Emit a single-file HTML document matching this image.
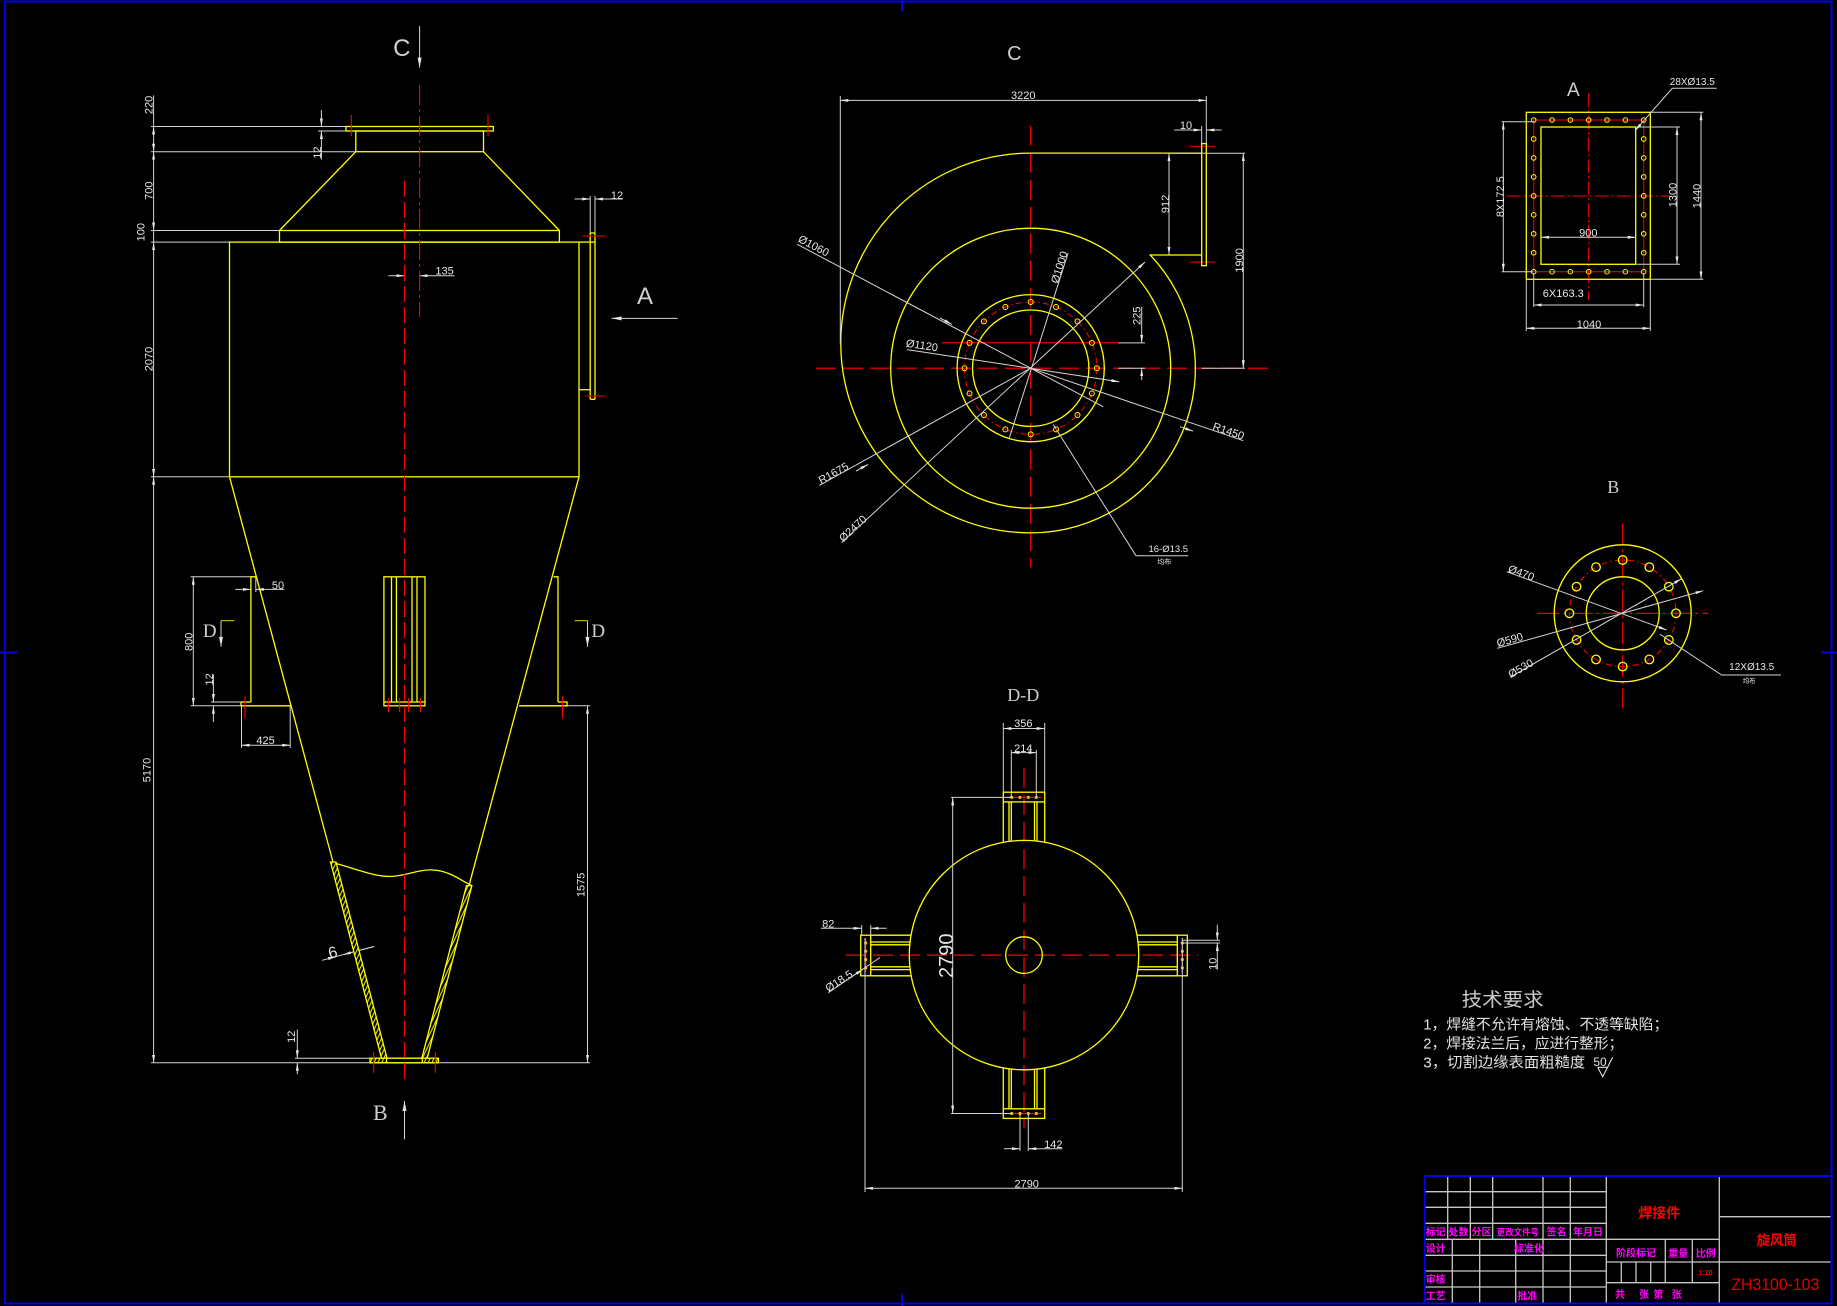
<!DOCTYPE html>
<html><head><meta charset="utf-8">
<style>html,body{margin:0;padding:0;background:#000;}svg{display:block}</style>
</head>
<body>
<svg width="1837" height="1306" viewBox="0 0 1837 1306" xmlns="http://www.w3.org/2000/svg" font-family="'Liberation Sans', sans-serif">
<defs>
<marker id="a" viewBox="0 0 8 3" refX="8" refY="1.5" markerWidth="8" markerHeight="3" markerUnits="userSpaceOnUse" orient="auto-start-reverse"><path d="M0,0L8,1.5L0,3z" fill="#e6e6e6"/></marker>
<marker id="b" viewBox="0 0 10 4" refX="10" refY="2" markerWidth="10" markerHeight="4" markerUnits="userSpaceOnUse" orient="auto-start-reverse"><path d="M0,0L10,2L0,4z" fill="#e6e6e6"/></marker>
<pattern id="h" width="3.5" height="3.5" patternUnits="userSpaceOnUse" patternTransform="rotate(25)"><rect width="3.5" height="3.5" fill="#000"/><line x1="0.6" y1="0" x2="0.6" y2="3.5" stroke="#ffff00" stroke-width="1"/></pattern>
</defs>
<rect width="1837" height="1306" fill="#000"/>

<!-- frame -->
<g stroke="#0000ee" stroke-width="2" fill="none">
<rect x="5" y="1.5" width="1826.5" height="1302"/>
<line x1="902" y1="0" x2="902" y2="11"/>
<line x1="902" y1="1294" x2="902" y2="1306"/>
<line x1="0" y1="652.5" x2="17" y2="652.5"/>
<line x1="1821" y1="652.5" x2="1837" y2="652.5"/>
</g>

<!-- ================= MAIN ELEVATION ================= -->
<g stroke="#d4d4d4" stroke-width="1" fill="none">
<line x1="153.6" y1="95.4" x2="153.6" y2="126.5"/>
<line x1="153.6" y1="126.5" x2="153.6" y2="151.7" marker-start="url(#a)" marker-end="url(#a)"/>
<line x1="153.6" y1="151.7" x2="153.6" y2="230.5" marker-start="url(#a)" marker-end="url(#a)"/>
<line x1="153.6" y1="230.5" x2="153.6" y2="242.1"/>
<line x1="153.6" y1="242.1" x2="153.6" y2="476.8" marker-start="url(#a)" marker-end="url(#a)"/>
<line x1="153.6" y1="476.8" x2="153.6" y2="1062.8" marker-start="url(#a)" marker-end="url(#a)"/>
<line x1="151" y1="126.5" x2="346" y2="126.5"/>
<line x1="151" y1="151.7" x2="355.8" y2="151.7"/>
<line x1="151" y1="230.5" x2="279.5" y2="230.5"/>
<line x1="151" y1="242.1" x2="229.5" y2="242.1"/>
<line x1="151" y1="476.8" x2="229.5" y2="476.8"/>
<line x1="151" y1="1062.8" x2="590.2" y2="1062.8"/>
<line x1="321.4" y1="110" x2="321.4" y2="126.5" marker-end="url(#a)"/>
<line x1="321.4" y1="159.6" x2="321.4" y2="131" marker-end="url(#a)"/>
<line x1="318" y1="131" x2="346" y2="131"/>
<line x1="388.4" y1="275.7" x2="404.5" y2="275.7" marker-end="url(#a)"/>
<line x1="454.5" y1="275.7" x2="419.6" y2="275.7" marker-end="url(#a)"/>
<line x1="574.5" y1="199" x2="590.2" y2="199" marker-end="url(#a)"/>
<line x1="622.8" y1="199" x2="595" y2="199" marker-end="url(#a)"/>
<line x1="590.2" y1="196" x2="590.2" y2="233"/>
<line x1="595" y1="196" x2="595" y2="233"/>
<line x1="677.7" y1="318.4" x2="611.6" y2="318.4" marker-end="url(#b)"/>
<line x1="419.6" y1="26" x2="419.6" y2="67.6" marker-end="url(#b)"/>
<line x1="404.5" y1="1139.4" x2="404.5" y2="1101" marker-end="url(#b)"/>
<line x1="221" y1="620.6" x2="221" y2="646.8" marker-end="url(#b)"/>
<line x1="587.5" y1="620.6" x2="587.5" y2="646.8" marker-end="url(#b)"/>
<line x1="193.3" y1="576.8" x2="193.3" y2="705.8" marker-start="url(#a)" marker-end="url(#a)"/>
<line x1="190.6" y1="576.8" x2="250.9" y2="576.8"/>
<line x1="190.6" y1="705.8" x2="241" y2="705.8"/>
<line x1="213.4" y1="674.4" x2="213.4" y2="702" marker-end="url(#a)"/>
<line x1="213.4" y1="722.2" x2="213.4" y2="705.8" marker-end="url(#a)"/>
<line x1="211" y1="702" x2="241" y2="702"/>
<line x1="235.3" y1="589.4" x2="250.9" y2="589.4" marker-end="url(#a)"/>
<line x1="284.4" y1="589.4" x2="255.8" y2="589.4" marker-end="url(#a)"/>
<line x1="255.8" y1="576.8" x2="255.8" y2="592"/>
<line x1="241.5" y1="745.2" x2="290.2" y2="745.2" marker-start="url(#a)" marker-end="url(#a)"/>
<line x1="241.5" y1="705.8" x2="241.5" y2="748"/>
<line x1="290.2" y1="705.8" x2="290.2" y2="748"/>
<line x1="587.5" y1="705.8" x2="587.5" y2="1062.8" marker-start="url(#a)" marker-end="url(#a)"/>
<line x1="519.2" y1="705.8" x2="590.2" y2="705.8"/>
<line x1="297.3" y1="1029.5" x2="297.3" y2="1058.2" marker-end="url(#a)"/>
<line x1="297.3" y1="1074.3" x2="297.3" y2="1062.8" marker-end="url(#a)"/>
<line x1="295" y1="1058.2" x2="370" y2="1058.2"/>
<line x1="328" y1="958.7" x2="374" y2="946.5"/>
<line x1="322" y1="960.3" x2="336" y2="956.6" marker-end="url(#a)"/>
<line x1="374" y1="946.5" x2="343" y2="954.7" marker-end="url(#a)"/>
</g>
<g stroke="#b0b000" stroke-width="1.2">
<line x1="221" y1="620.6" x2="234.4" y2="620.6"/>
<line x1="574.6" y1="620.6" x2="587.5" y2="620.6"/>
</g>

<g stroke="#ffff00" stroke-width="1.3" fill="none">
<rect x="346" y="126.5" width="147.3" height="4.5"/>
<rect x="355.8" y="131" width="127.7" height="20.7"/>
<line x1="355.8" y1="151.7" x2="279.5" y2="230.5"/>
<line x1="483.5" y1="151.7" x2="559.4" y2="230.5"/>
<rect x="279.5" y="230.5" width="279.9" height="11.6"/>
<rect x="229.5" y="242.1" width="349.5" height="234.7"/>
<line x1="579" y1="242.1" x2="595" y2="242.1"/>
<line x1="590.2" y1="233" x2="590.2" y2="399.3"/>
<line x1="595" y1="233" x2="595" y2="399.3"/>
<line x1="590.2" y1="233" x2="595" y2="233"/>
<line x1="590.2" y1="399.3" x2="595" y2="399.3"/>
<line x1="579" y1="389.7" x2="590.2" y2="389.7"/>
<line x1="229.5" y1="476.8" x2="333" y2="862"/>
<line x1="579" y1="476.8" x2="469" y2="885.6"/>
<polyline points="250.9,702 250.9,576.8 255.8,576.8"/>
<polyline points="241,702 250.9,702"/>
<polyline points="241,702 241,705.8 291.3,705.8"/>
<polyline points="558,702 558,576.8 553.6,576.8"/>
<polyline points="558,702 567,702 567,705.8 519.2,705.8"/>
<rect x="383.9" y="576.8" width="41.1" height="129"/>
<line x1="391.5" y1="576.8" x2="391.5" y2="702"/>
<line x1="396.4" y1="576.8" x2="396.4" y2="702"/>
<line x1="412" y1="576.8" x2="412" y2="702"/>
<line x1="417" y1="576.8" x2="417" y2="702"/>
<line x1="383.9" y1="702" x2="425" y2="702"/>
<path d="M330.4,861.9 C360,870 375,877 391,876.4 C405,876 420,869 433,870 C450,871 460,880 471.9,885.6"/>
<polygon points="330.5,862 336,862 387,1058.2 381.5,1058.2" fill="url(#h)"/>
<polygon points="466.5,885.6 471.9,885.6 427.2,1058.2 421.8,1058.2" fill="url(#h)"/>
<rect x="370" y="1058.2" width="16.6" height="4.6" fill="url(#h)"/>
<rect x="422.3" y="1058.2" width="16.1" height="4.6" fill="url(#h)"/>
<line x1="386.6" y1="1058.2" x2="422.3" y2="1058.2"/>
<line x1="370" y1="1062.8" x2="438.4" y2="1062.8"/>
</g>
<g stroke="#ff0000" stroke-width="1.1" fill="none">
<line x1="419.6" y1="85" x2="419.6" y2="317" stroke-dasharray="20,4,3,4"/>
<line x1="404.5" y1="181" x2="404.5" y2="1082" stroke-dasharray="16,5"/>
<line x1="351.3" y1="115" x2="351.3" y2="136"/>
<line x1="488" y1="115" x2="488" y2="136"/>
<line x1="245" y1="696.6" x2="245" y2="718.4"/>
<line x1="562.5" y1="696.6" x2="562.5" y2="718.4"/>
<line x1="388.4" y1="698" x2="388.4" y2="712"/>
<line x1="399.6" y1="698" x2="399.6" y2="712"/>
<line x1="408.5" y1="698" x2="408.5" y2="712"/>
<line x1="420.5" y1="698" x2="420.5" y2="712"/>
<line x1="373.7" y1="1052" x2="373.7" y2="1072.8"/>
<line x1="435.3" y1="1052" x2="435.3" y2="1072.8"/>
</g>
<g stroke="#c00000" stroke-width="1.2">
<line x1="582.6" y1="236" x2="605" y2="236"/>
<line x1="584.8" y1="396" x2="605" y2="396"/>
</g>
<g fill="#e6e6e6" font-size="11" text-anchor="middle">
<text transform="translate(152.7,104.9) rotate(-90)">220</text>
<text transform="translate(152.7,190.7) rotate(-90)">700</text>
<text transform="translate(144.6,232.2) rotate(-90)">100</text>
<text transform="translate(152.7,359) rotate(-90)">2070</text>
<text transform="translate(150.4,770) rotate(-90)">5170</text>
<text transform="translate(321,152.6) rotate(-90)">12</text>
<text transform="translate(192.4,641.8) rotate(-90)">800</text>
<text transform="translate(213,679.4) rotate(-90)">12</text>
<text transform="translate(584.4,884.9) rotate(-90)">1575</text>
<text transform="translate(295,1036.8) rotate(-90)">12</text>
<text x="444.6" y="274.5">135</text>
<text x="617" y="199">12</text>
<text x="278" y="589">50</text>
<text x="265.6" y="744">425</text>
<text transform="translate(332.6,951.8) rotate(-15)" font-size="16" y="6">6</text>
<text x="401.8" y="56" font-size="24" fill="#d0d0d0">C</text>
<text x="645" y="304" font-size="24" fill="#d0d0d0">A</text>
<text x="380.4" y="1120" font-size="22" font-family="'Liberation Serif', serif" fill="#d0d0d0">B</text>
<text x="209.8" y="637" font-size="19" font-family="'Liberation Serif', serif" fill="#d0d0d0">D</text>
<text x="598.2" y="637" font-size="19" font-family="'Liberation Serif', serif" fill="#d0d0d0">D</text>
</g>

<!-- ================= C VIEW ================= -->
<g stroke="#ff0000" stroke-width="1.2" fill="none">
<line x1="816" y1="368.2" x2="1275" y2="368.2" stroke-dasharray="20,7"/>
<line x1="1030.7" y1="125.7" x2="1030.7" y2="567.5" stroke-dasharray="20,7"/>
<circle cx="1030.7" cy="368.2" r="66.2" stroke-dasharray="6,3,1.5,3" stroke-width="1"/>
</g>
<g stroke="#c00000" stroke-width="1.3">
<line x1="942" y1="342.7" x2="1118.3" y2="342.7"/>
<line x1="1189.3" y1="146.4" x2="1215" y2="146.4"/>
<line x1="1189.3" y1="262.1" x2="1215" y2="262.1"/>
</g>
<g stroke="#ffff00" stroke-width="1.3" fill="none">
<path d="M1030.7,153.15 A189.85,189.85 0 1 0 1030.7,532.85 A164.65,164.65 0 0 0 1149.7,254.4"/>
<line x1="1030.7" y1="153.15" x2="1201.7" y2="153.15"/>
<line x1="1149.7" y1="255" x2="1201.7" y2="255"/>
<rect x="1201.7" y="143.6" width="4.6" height="122.1"/>
<circle cx="1030.7" cy="368.2" r="140"/>
<circle cx="1030.7" cy="368.2" r="73.6"/>
<circle cx="1030.7" cy="368.2" r="58.2"/>
</g>
<g stroke="#ffff00" stroke-width="1" fill="none">
<circle cx="1096.9" cy="368.2" r="2.5"/><circle cx="1091.86" cy="393.53" r="2.5"/><circle cx="1077.51" cy="415.01" r="2.5"/><circle cx="1056.03" cy="429.36" r="2.5"/>
<circle cx="1030.7" cy="434.4" r="2.5"/><circle cx="1005.37" cy="429.36" r="2.5"/><circle cx="983.89" cy="415.01" r="2.5"/><circle cx="969.54" cy="393.53" r="2.5"/>
<circle cx="964.5" cy="368.2" r="2.5"/><circle cx="969.54" cy="342.87" r="2.5"/><circle cx="983.89" cy="321.39" r="2.5"/><circle cx="1005.37" cy="307.04" r="2.5"/>
<circle cx="1030.7" cy="302" r="2.5"/><circle cx="1056.03" cy="307.04" r="2.5"/><circle cx="1077.51" cy="321.39" r="2.5"/><circle cx="1091.86" cy="342.87" r="2.5"/>
</g>
<g stroke="#d4d4d4" stroke-width="1" fill="none">
<line x1="840.3" y1="100.4" x2="1206.3" y2="100.4" marker-start="url(#a)" marker-end="url(#a)"/>
<line x1="840.3" y1="96" x2="840.3" y2="344"/>
<line x1="1206.3" y1="96" x2="1206.3" y2="143.6"/>
<line x1="1174.3" y1="130" x2="1201.7" y2="130" marker-end="url(#a)"/>
<line x1="1221.7" y1="130" x2="1206.3" y2="130" marker-end="url(#a)"/>
<line x1="1201.7" y1="126" x2="1201.7" y2="143.6"/>
<line x1="1169" y1="153.2" x2="1169" y2="255" marker-start="url(#a)" marker-end="url(#a)"/>
<line x1="1243.3" y1="153.2" x2="1243.3" y2="368.2" marker-start="url(#a)" marker-end="url(#a)"/>
<line x1="1170.7" y1="153.2" x2="1245" y2="153.2"/>
<line x1="1201.7" y1="368.2" x2="1245" y2="368.2"/>
<line x1="1118.3" y1="342.9" x2="1145" y2="342.9"/>
<line x1="1118.3" y1="368.2" x2="1145" y2="368.2"/>
<line x1="1141.7" y1="306.8" x2="1141.7" y2="342.9" marker-end="url(#a)"/>
<line x1="1141.7" y1="380" x2="1141.7" y2="368.2" marker-end="url(#a)"/>
<line x1="797.3" y1="244.3" x2="1103.3" y2="406.8"/>
<line x1="1068" y1="253.2" x2="1009" y2="439"/>
<line x1="907" y1="349.6" x2="1119.3" y2="381.8" marker-end="url(#a)"/>
<line x1="819.3" y1="485.4" x2="1030.7" y2="368.2"/>
<line x1="841.7" y1="542.5" x2="1145" y2="262" marker-end="url(#a)"/>
<line x1="1030.7" y1="368.2" x2="1243.3" y2="440.7"/>
<polyline points="1188.3,555.7 1136,555.7 1053.3,424.6"/>
<line x1="1180" y1="426.7" x2="1193" y2="431.1" marker-end="url(#a)"/>
<line x1="856" y1="471" x2="868" y2="464.4" marker-end="url(#a)"/>
<line x1="940" y1="318" x2="952" y2="324.4" marker-end="url(#a)"/>
</g>
<g fill="#e6e6e6" font-size="11" text-anchor="middle">
<text x="1014.3" y="60" font-size="20" fill="#d0d0d0">C</text>
<text x="1023.3" y="99">3220</text>
<text x="1186" y="129">10</text>
<text transform="translate(1169,204) rotate(-90)">912</text>
<text transform="translate(1243,260.4) rotate(-90)">1900</text>
<text transform="translate(1140.7,315.7) rotate(-90)">225</text>
<text transform="translate(812,249) rotate(28)" y="0">Ø1060</text>
<text transform="translate(1060,267.5) rotate(-72.4)" y="3">Ø1000</text>
<text transform="translate(921.7,347) rotate(8.6)" y="2">Ø1120</text>
<text transform="translate(833.3,472.9) rotate(-29)" y="4">R1675</text>
<text transform="translate(852.6,528.2) rotate(-42.8)" y="4">Ø2470</text>
<text transform="translate(1228.3,431.8) rotate(18.8)" y="3">R1450</text>
<text x="1168.3" y="552" font-size="9.5">16-Ø13.5</text>
<text x="1164.3" y="564" font-size="7" font-family="'Liberation Sans','Noto Sans CJK SC',sans-serif">均布</text>
</g>
<g fill="#ff0000">
<circle cx="1096.9" cy="368.2" r="0.9"/><circle cx="1091.86" cy="393.53" r="0.9"/><circle cx="1077.51" cy="415.01" r="0.9"/><circle cx="1056.03" cy="429.36" r="0.9"/>
<circle cx="1030.7" cy="434.4" r="0.9"/><circle cx="1005.37" cy="429.36" r="0.9"/><circle cx="983.89" cy="415.01" r="0.9"/><circle cx="969.54" cy="393.53" r="0.9"/>
<circle cx="964.5" cy="368.2" r="0.9"/><circle cx="969.54" cy="342.87" r="0.9"/><circle cx="983.89" cy="321.39" r="0.9"/><circle cx="1005.37" cy="307.04" r="0.9"/>
<circle cx="1030.7" cy="302" r="0.9"/><circle cx="1056.03" cy="307.04" r="0.9"/><circle cx="1077.51" cy="321.39" r="0.9"/><circle cx="1091.86" cy="342.87" r="0.9"/>
</g>

<!-- ================= A VIEW ================= -->
<g stroke="#ff0000" stroke-width="1.1" fill="none">
<line x1="1588.7" y1="93.3" x2="1588.7" y2="300" stroke-dasharray="14,3,2,3"/>
<line x1="1506.7" y1="196" x2="1670" y2="196" stroke-dasharray="14,3,2,3"/>
<rect x="1533.7" y="120" width="110" height="151.7" stroke="#c00000" stroke-width="1.3"/>
</g>
<g stroke="#ffff00" stroke-width="1.3" fill="none">
<rect x="1526.3" y="112.3" width="124" height="167"/>
<rect x="1541" y="127" width="94.7" height="137.3"/>
</g>
<g stroke="#ffff00" stroke-width="1" fill="none">
<circle cx="1533.7" cy="120" r="2.3"/><circle cx="1552.03" cy="120" r="2.3"/><circle cx="1570.37" cy="120" r="2.3"/><circle cx="1588.7" cy="120" r="2.3"/><circle cx="1607.03" cy="120" r="2.3"/><circle cx="1625.37" cy="120" r="2.3"/><circle cx="1643.7" cy="120" r="2.3"/>
<circle cx="1533.7" cy="271.7" r="2.3"/><circle cx="1552.03" cy="271.7" r="2.3"/><circle cx="1570.37" cy="271.7" r="2.3"/><circle cx="1588.7" cy="271.7" r="2.3"/><circle cx="1607.03" cy="271.7" r="2.3"/><circle cx="1625.37" cy="271.7" r="2.3"/><circle cx="1643.7" cy="271.7" r="2.3"/>
<circle cx="1533.7" cy="138.96" r="2.3"/><circle cx="1533.7" cy="157.93" r="2.3"/><circle cx="1533.7" cy="176.89" r="2.3"/><circle cx="1533.7" cy="195.85" r="2.3"/><circle cx="1533.7" cy="214.81" r="2.3"/><circle cx="1533.7" cy="233.78" r="2.3"/><circle cx="1533.7" cy="252.74" r="2.3"/>
<circle cx="1643.7" cy="138.96" r="2.3"/><circle cx="1643.7" cy="157.93" r="2.3"/><circle cx="1643.7" cy="176.89" r="2.3"/><circle cx="1643.7" cy="195.85" r="2.3"/><circle cx="1643.7" cy="214.81" r="2.3"/><circle cx="1643.7" cy="233.78" r="2.3"/><circle cx="1643.7" cy="252.74" r="2.3"/>
</g>
<g stroke="#d4d4d4" stroke-width="1" fill="none">
<line x1="1503.3" y1="121.7" x2="1503.3" y2="271.7" marker-start="url(#a)" marker-end="url(#a)"/>
<line x1="1501.7" y1="121.7" x2="1533.7" y2="121.7"/>
<line x1="1501.7" y1="271.7" x2="1533.7" y2="271.7"/>
<line x1="1677" y1="127" x2="1677" y2="264.3" marker-start="url(#a)" marker-end="url(#a)"/>
<line x1="1636.7" y1="127" x2="1680" y2="127"/>
<line x1="1636.7" y1="264.3" x2="1680" y2="264.3"/>
<line x1="1701" y1="112.3" x2="1701" y2="279.3" marker-start="url(#a)" marker-end="url(#a)"/>
<line x1="1650.3" y1="112.3" x2="1703.3" y2="112.3"/>
<line x1="1650.3" y1="279.3" x2="1703.3" y2="279.3"/>
<line x1="1541" y1="237.3" x2="1635.7" y2="237.3" marker-start="url(#a)" marker-end="url(#a)"/>
<line x1="1533.7" y1="305" x2="1643.7" y2="305" marker-start="url(#a)" marker-end="url(#a)"/>
<line x1="1533.7" y1="273" x2="1533.7" y2="307"/>
<line x1="1643.7" y1="273" x2="1643.7" y2="307"/>
<line x1="1526.3" y1="328.3" x2="1650.3" y2="328.3" marker-start="url(#a)" marker-end="url(#a)"/>
<line x1="1526.3" y1="280" x2="1526.3" y2="331"/>
<line x1="1650.3" y1="280" x2="1650.3" y2="331"/>
<polyline points="1716.7,88.3 1672.3,88.3 1635,130.7" marker-end="url(#a)"/>
</g>
<g fill="#e6e6e6" font-size="11" text-anchor="middle">
<text x="1573.3" y="96" font-size="19" fill="#d0d0d0">A</text>
<text transform="translate(1504,196.7) rotate(-90)">8X172.5</text>
<text transform="translate(1676.3,195) rotate(-90)">1300</text>
<text transform="translate(1700.7,196) rotate(-90)">1440</text>
<text x="1588.3" y="236.5">900</text>
<text x="1563.3" y="297">6X163.3</text>
<text x="1589" y="328">1040</text>
<text x="1692.3" y="85" font-size="10">28XØ13.5</text>
</g>
<g fill="#ff0000">
<circle cx="1533.7" cy="120" r="0.8"/><circle cx="1552.03" cy="120" r="0.8"/><circle cx="1570.37" cy="120" r="0.8"/><circle cx="1588.7" cy="120" r="0.8"/><circle cx="1607.03" cy="120" r="0.8"/><circle cx="1625.37" cy="120" r="0.8"/><circle cx="1643.7" cy="120" r="0.8"/>
<circle cx="1533.7" cy="271.7" r="0.8"/><circle cx="1552.03" cy="271.7" r="0.8"/><circle cx="1570.37" cy="271.7" r="0.8"/><circle cx="1588.7" cy="271.7" r="0.8"/><circle cx="1607.03" cy="271.7" r="0.8"/><circle cx="1625.37" cy="271.7" r="0.8"/><circle cx="1643.7" cy="271.7" r="0.8"/>
</g>

<!-- ================= B VIEW ================= -->
<g stroke="#ff0000" stroke-width="1.1" fill="none">
<line x1="1537.3" y1="613.3" x2="1708.3" y2="613.3" stroke-dasharray="22,4,3,4"/>
<line x1="1622.7" y1="523.3" x2="1622.7" y2="708.3" stroke-dasharray="22,4,3,4"/>
<circle cx="1622.7" cy="613.3" r="53.3" stroke-dasharray="6,3,1.5,3"/>
</g>
<g stroke="#ffff00" stroke-width="1.3" fill="none">
<circle cx="1622.7" cy="613.3" r="68.5"/>
<circle cx="1622.7" cy="613.3" r="36.5"/>
<circle cx="1676" cy="613.3" r="4.3"/><circle cx="1668.86" cy="639.95" r="4.3"/><circle cx="1649.35" cy="659.46" r="4.3"/><circle cx="1622.7" cy="666.6" r="4.3"/>
<circle cx="1596.05" cy="659.46" r="4.3"/><circle cx="1576.54" cy="639.95" r="4.3"/><circle cx="1569.4" cy="613.3" r="4.3"/><circle cx="1576.54" cy="586.65" r="4.3"/>
<circle cx="1596.05" cy="567.14" r="4.3"/><circle cx="1622.7" cy="560" r="4.3"/><circle cx="1649.35" cy="567.14" r="4.3"/><circle cx="1668.86" cy="586.65" r="4.3"/>
</g>
<g stroke="#d4d4d4" stroke-width="1" fill="none">
<line x1="1506.7" y1="571.7" x2="1666.7" y2="630" marker-end="url(#a)"/>
<line x1="1497.3" y1="648.3" x2="1703.3" y2="590.7" marker-end="url(#a)"/>
<line x1="1510" y1="677.3" x2="1681.7" y2="578.7" marker-end="url(#a)"/>
<polyline points="1781,675 1721.7,675 1660,634.3"/>
</g>
<g fill="#e6e6e6" font-size="11" text-anchor="middle">
<text x="1613.3" y="493" font-size="18" font-family="'Liberation Serif', serif" fill="#d0d0d0">B</text>
<text transform="translate(1521,573.5) rotate(20)" y="3">Ø470</text>
<text transform="translate(1510,640.5) rotate(-15.6)" y="3">Ø590</text>
<text transform="translate(1521,669) rotate(-29.9)" y="3">Ø530</text>
<text x="1751.7" y="670" font-size="10">12XØ13.5</text>
<text x="1749.3" y="683" font-size="6.5" font-family="'Liberation Sans','Noto Sans CJK SC',sans-serif">均布</text>
</g>

<!-- ================= D-D VIEW ================= -->
<g stroke="#ff0000" stroke-width="1.2" fill="none">
<line x1="1024" y1="768" x2="1024" y2="1128" stroke-dasharray="20,7"/>
<line x1="846" y1="955.1" x2="1198.3" y2="955.1" stroke-dasharray="20,7"/>
<line x1="1006" y1="797.4" x2="1041" y2="797.4"/>
<line x1="1006" y1="1113.5" x2="1041" y2="1113.5"/>
<line x1="865.7" y1="938" x2="865.7" y2="972"/>
<line x1="1182.3" y1="938" x2="1182.3" y2="972"/>
</g>
<g stroke="#ffff00" stroke-width="1.3" fill="none">
<circle cx="1024" cy="955.1" r="114.7"/>
<circle cx="1024" cy="955.1" r="18.3"/>
<rect x="1003.3" y="792.2" width="41.4" height="9.7"/>
<line x1="1003.3" y1="801.9" x2="1003.3" y2="842.3"/>
<line x1="1044.7" y1="801.9" x2="1044.7" y2="842.3"/>
<line x1="1009" y1="801.9" x2="1009" y2="841"/>
<line x1="1011.3" y1="801.9" x2="1011.3" y2="841"/>
<line x1="1034.5" y1="801.9" x2="1034.5" y2="841"/>
<line x1="1037" y1="801.9" x2="1037" y2="841"/>
<rect x="1003.3" y="1108.8" width="41.4" height="9.6"/>
<line x1="1003.3" y1="1067.9" x2="1003.3" y2="1108.8"/>
<line x1="1044.7" y1="1067.9" x2="1044.7" y2="1108.8"/>
<line x1="1009" y1="1069" x2="1009" y2="1108.8"/>
<line x1="1011.3" y1="1069" x2="1011.3" y2="1108.8"/>
<line x1="1034.5" y1="1069" x2="1034.5" y2="1108.8"/>
<line x1="1037" y1="1069" x2="1037" y2="1108.8"/>
<rect x="860.7" y="935.2" width="10" height="40.6"/>
<line x1="870.7" y1="935.2" x2="911" y2="935.2"/>
<line x1="870.7" y1="975.8" x2="911" y2="975.8"/>
<line x1="870.7" y1="942" x2="910" y2="942"/>
<line x1="870.7" y1="944.8" x2="910" y2="944.8"/>
<line x1="870.7" y1="966.8" x2="910" y2="966.8"/>
<line x1="870.7" y1="969.6" x2="910" y2="969.6"/>
<rect x="1177.3" y="935.2" width="10" height="40.6"/>
<line x1="1137" y1="935.2" x2="1177.3" y2="935.2"/>
<line x1="1137" y1="975.8" x2="1177.3" y2="975.8"/>
<line x1="1138" y1="942" x2="1177.3" y2="942"/>
<line x1="1138" y1="944.8" x2="1177.3" y2="944.8"/>
<line x1="1138" y1="966.8" x2="1177.3" y2="966.8"/>
<line x1="1138" y1="969.6" x2="1177.3" y2="969.6"/>
</g>
<g fill="#e0c000">
<circle cx="1011.7" cy="797.4" r="1.6"/><circle cx="1020" cy="797.4" r="1.6"/><circle cx="1028.3" cy="797.4" r="1.6"/><circle cx="1036.3" cy="797.4" r="1.6"/>
<circle cx="1011.7" cy="1113.5" r="1.6"/><circle cx="1020" cy="1113.5" r="1.6"/><circle cx="1028.3" cy="1113.5" r="1.6"/><circle cx="1036.3" cy="1113.5" r="1.6"/>
<circle cx="865.7" cy="943" r="1.6"/><circle cx="865.7" cy="951.3" r="1.6"/><circle cx="865.7" cy="959.6" r="1.6"/><circle cx="865.7" cy="967.9" r="1.6"/>
<circle cx="1182.3" cy="943" r="1.6"/><circle cx="1182.3" cy="951.3" r="1.6"/><circle cx="1182.3" cy="959.6" r="1.6"/><circle cx="1182.3" cy="967.9" r="1.6"/>
</g>
<g stroke="#d4d4d4" stroke-width="1" fill="none">
<line x1="1003.3" y1="728.5" x2="1044.7" y2="728.5" marker-start="url(#a)" marker-end="url(#a)"/>
<line x1="1003.3" y1="723" x2="1003.3" y2="792.2"/>
<line x1="1044.7" y1="723" x2="1044.7" y2="792.2"/>
<line x1="1011.3" y1="752.6" x2="1036.3" y2="752.6" marker-start="url(#a)" marker-end="url(#a)"/>
<line x1="1011.3" y1="750" x2="1011.3" y2="797.4"/>
<line x1="1036.3" y1="750" x2="1036.3" y2="797.4"/>
<line x1="952.7" y1="797.4" x2="952.7" y2="1113.5" marker-start="url(#a)" marker-end="url(#a)"/>
<line x1="951" y1="797.4" x2="1011.7" y2="797.4"/>
<line x1="951" y1="1113.5" x2="1011.7" y2="1113.5"/>
<line x1="865" y1="1188.3" x2="1182.3" y2="1188.3" marker-start="url(#a)" marker-end="url(#a)"/>
<line x1="865" y1="938" x2="865" y2="1192"/>
<line x1="1182.3" y1="938" x2="1182.3" y2="1192"/>
<line x1="1004" y1="1148.7" x2="1020" y2="1148.7" marker-end="url(#a)"/>
<line x1="1062.3" y1="1148.7" x2="1028.3" y2="1148.7" marker-end="url(#a)"/>
<line x1="1020" y1="1113.5" x2="1020" y2="1151"/>
<line x1="1028.3" y1="1113.5" x2="1028.3" y2="1151"/>
<line x1="821" y1="928.3" x2="861.7" y2="928.3" marker-end="url(#a)"/>
<line x1="886.7" y1="928.3" x2="870.7" y2="928.3" marker-end="url(#a)"/>
<line x1="861.7" y1="925" x2="861.7" y2="935.2"/>
<line x1="870.7" y1="925" x2="870.7" y2="935.2"/>
<line x1="1217.3" y1="924.8" x2="1217.3" y2="940.3" marker-end="url(#a)"/>
<line x1="1217.3" y1="969.6" x2="1217.3" y2="943" marker-end="url(#a)"/>
<line x1="1183" y1="940.3" x2="1220" y2="940.3"/>
<line x1="1183" y1="943" x2="1220" y2="943"/>
<line x1="828.3" y1="992.7" x2="880" y2="957.5"/>
<line x1="848" y1="979.3" x2="863" y2="969.1" marker-end="url(#a)"/>
</g>
<g fill="#e6e6e6" font-size="11" text-anchor="middle">
<text x="1023.3" y="701" font-size="18" font-family="'Liberation Serif', serif" fill="#d0d0d0">D-D</text>
<text x="1023.3" y="727">356</text>
<text x="1023.3" y="752">214</text>
<text transform="translate(953,955.8) rotate(-90)" font-size="20">2790</text>
<text x="1026.7" y="1187.5">2790</text>
<text x="1053.3" y="1148">142</text>
<text x="828.3" y="927.5">82</text>
<text transform="translate(839.3,981.6) rotate(-33)" y="3">Ø18.5</text>
<text transform="translate(1216.7,963.7) rotate(-90)">10</text>
</g>

<!-- ================= TECH REQUIREMENTS ================= -->
<g fill="#e2e2e2" font-family="'Liberation Sans','Noto Sans CJK SC',sans-serif">
<text x="1461.7" y="1006" font-size="19" fill="#c8c8c8" textLength="82" lengthAdjust="spacingAndGlyphs">技术要求</text>
<text x="1423.3" y="1029.5" font-size="14.5" textLength="245" lengthAdjust="spacingAndGlyphs">1，焊缝不允许有熔蚀、不透等缺陷；</text>
<text x="1423.3" y="1048.5" font-size="14.5" textLength="200" lengthAdjust="spacingAndGlyphs">2，焊接法兰后，应进行整形；</text>
<text x="1423.3" y="1067.5" font-size="14.5" textLength="162" lengthAdjust="spacingAndGlyphs">3，切割边缘表面粗糙度</text>
<text x="1600" y="1066" font-size="12" text-anchor="middle">50</text>
</g>
<polyline points="1597.7,1067.3 1602.7,1076.7 1612.7,1057.3" stroke="#e2e2e2" stroke-width="1.1" fill="none"/>
<polyline points="1597.7,1067.3 1607.3,1067.3" stroke="#e2e2e2" stroke-width="1.1" fill="none"/>

<!-- ================= TITLE BLOCK ================= -->
<g stroke="#c8c8c8" stroke-width="1.3" fill="none">
<line x1="1424.7" y1="1191.7" x2="1606.3" y2="1191.7"/>
<line x1="1424.7" y1="1207.3" x2="1606.3" y2="1207.3"/>
<line x1="1424.7" y1="1223.3" x2="1606.3" y2="1223.3"/>
<line x1="1424.7" y1="1239.3" x2="1719.3" y2="1239.3"/>
<line x1="1424.7" y1="1255.3" x2="1606.3" y2="1255.3"/>
<line x1="1424.7" y1="1271" x2="1606.3" y2="1271"/>
<line x1="1424.7" y1="1287" x2="1606.3" y2="1287"/>
<line x1="1447.7" y1="1176" x2="1447.7" y2="1239.3"/>
<line x1="1470.3" y1="1176" x2="1470.3" y2="1239.3"/>
<line x1="1492.7" y1="1176" x2="1492.7" y2="1239.3"/>
<line x1="1543" y1="1176" x2="1543" y2="1303.5"/>
<line x1="1570.3" y1="1176" x2="1570.3" y2="1303.5"/>
<line x1="1452.3" y1="1239.3" x2="1452.3" y2="1303.5"/>
<line x1="1479.7" y1="1239.3" x2="1479.7" y2="1303.5"/>
<line x1="1515.7" y1="1239.3" x2="1515.7" y2="1303.5"/>
<line x1="1606.3" y1="1176" x2="1606.3" y2="1303.5"/>
<line x1="1719.3" y1="1176" x2="1719.3" y2="1303.5"/>
<line x1="1606.3" y1="1262" x2="1831.5" y2="1262"/>
<line x1="1606.3" y1="1282.7" x2="1719.3" y2="1282.7"/>
<line x1="1665.3" y1="1239.3" x2="1665.3" y2="1282.7"/>
<line x1="1692.3" y1="1239.3" x2="1692.3" y2="1282.7"/>
<line x1="1621.3" y1="1262" x2="1621.3" y2="1282.7"/>
<line x1="1636" y1="1262" x2="1636" y2="1282.7"/>
<line x1="1650.7" y1="1262" x2="1650.7" y2="1282.7"/>
<line x1="1719.3" y1="1216.7" x2="1831.5" y2="1216.7"/>
</g>
<rect x="1424.7" y="1176" width="406.8" height="127.5" stroke="#0000ee" stroke-width="2" fill="none"/>
<g fill="#ff00ff" font-size="10" font-weight="bold" text-anchor="middle" font-family="'Liberation Sans','Noto Sans CJK SC',sans-serif">
<text x="1435.7" y="1235.5">标记</text>
<text x="1458.5" y="1235.5">处数</text>
<text x="1481.5" y="1235.5">分区</text>
<text x="1517.8" y="1235.5" font-size="9" textLength="42" lengthAdjust="spacingAndGlyphs">更改文件号</text>
<text x="1556.5" y="1235.5">签名</text>
<text x="1588" y="1235.5">年月日</text>
<text x="1435.7" y="1252">设计</text>
<text x="1529" y="1252">标准化</text>
<text x="1435.7" y="1283">审核</text>
<text x="1435.7" y="1299.5">工艺</text>
<text x="1527.3" y="1299.5">批准</text>
<text x="1636" y="1256.5">阶段标记</text>
<text x="1678.3" y="1257">重量</text>
<text x="1705.7" y="1257">比例</text>
<text x="1620" y="1298">共</text>
<text x="1644" y="1298">张</text>
<text x="1658.3" y="1298">第</text>
<text x="1676.7" y="1298">张</text>
</g>
<g fill="#ff0000" text-anchor="middle" font-family="'Liberation Sans','Noto Sans CJK SC',sans-serif">
<text x="1659.3" y="1218" font-size="14" font-weight="bold">焊接件</text>
<text x="1776.7" y="1245" font-size="13.5" font-weight="bold">旋风筒</text>
<text x="1775.3" y="1290" font-size="17" fill="#e00000" textLength="88" lengthAdjust="spacingAndGlyphs">ZH3100-103</text>
<text x="1705.7" y="1275" font-size="7" font-weight="bold">1:20</text>
</g>
</svg>
</body>
</html>
